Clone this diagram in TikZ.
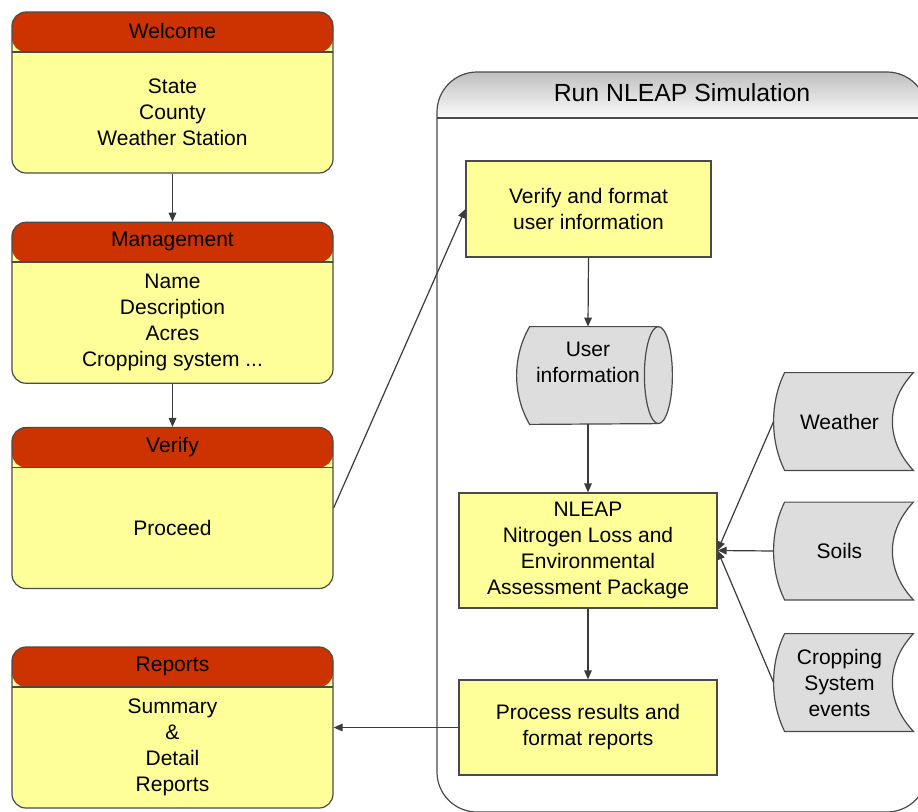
\documentclass[tikz,border=0pt]{standalone}
\usepackage{fontspec}
\setmainfont{Liberation Sans}
\usetikzlibrary{arrows.meta}

\definecolor{headred}{HTML}{CC3300}
\definecolor{boxyellow}{HTML}{FFFF99}
\definecolor{storegray}{HTML}{DDDDDD}
\definecolor{linecol}{HTML}{4A4A4A}

\tikzset{
  screen/.style={draw=linecol, fill=boxyellow, line width=0.6pt, rounded corners=7pt,
    minimum width=160.5pt, minimum height=80.5pt, inner sep=0pt,
    path picture={
      \fill[headred] (path picture bounding box.north west) rectangle ([yshift=-20pt]path picture bounding box.north east);
      \draw[linecol, line width=0.8pt] ([yshift=-20pt]path picture bounding box.north west) -- ([yshift=-20pt]path picture bounding box.north east);
    }},
  headtext/.style={inner sep=0pt},
  bodytext/.style={align=center, inner sep=0pt},
  procbox/.style={draw=linecol, fill=boxyellow, line width=0.6pt, align=center, inner sep=0pt},
  storebox/.style={align=center, inner sep=0pt, minimum width=69.5pt, minimum height=48.5pt},
  storeline/.style={draw=linecol, fill=storegray, line width=0.6pt},
  flow/.style={draw=linecol!80!black, line width=0.6pt, -{Triangle[length=4.5pt,width=3.8pt]}}
}

\begin{document}
\begin{tikzpicture}[x=0.5pt, y=-0.5pt, font=\fontsize{10.5}{13}\selectfont]
  \clip (0,0) rectangle (918,811);

  % simulation frame
  \begin{scope}
    \clip[rounded corners=20pt] (437,812) rectangle (927,72);
    \shade[top color=gray!50, bottom color=gray!3] (437,72) rectangle (927,118);
  \end{scope}
  \draw[linecol, line width=0.6pt, rounded corners=20pt] (437,812) rectangle (927,72);
  \draw[linecol, line width=0.8pt] (437,118) -- (927,118);
  \node[headtext, font=\fontsize{12.4}{14}\selectfont] (sim-title) at (682,93) {Run NLEAP Simulation};

  % left column of screens
  \node[screen] (welcome) at (172.5,92.5) {};
  \node[headtext] (welcome-h) at ([yshift=-10pt]welcome.north) {Welcome};
  \node[bodytext] (welcome-b) at ([yshift=-10pt]welcome.center) {State\\County\\Weather Station};

  \node[screen] (manage) at (172.5,302.75) {};
  \node[headtext] (manage-h) at ([yshift=-10pt]manage.north) {Management};
  \node[bodytext] (manage-b) at ([yshift=-10pt]manage.center) {Name\\Description\\Acres\\Cropping system ...};

  \node[screen] (verify) at (172.5,508) {};
  \node[headtext] (verify-h) at ([yshift=-10pt]verify.north) {Verify};
  \node[bodytext] (verify-b) at ([yshift=-10pt]verify.center) {Proceed};

  \node[screen] (reports) at (172.5,727.5) {};
  \node[headtext] (reports-h) at ([yshift=-10pt]reports.north) {Reports};
  \node[bodytext] (reports-b) at ([yshift=-10pt]reports.center) {Summary\\\&\\Detail\\Reports};

  % simulation steps
  \node[procbox, minimum width=122.5pt, minimum height=48pt] (verifyfmt) at (588.5,209) {Verify and format\\user information};
  \node[storebox, minimum width=71pt] (userinfo) at (588,375.5) {};
  \node[procbox, minimum width=129pt, minimum height=57.5pt] (nleap) at (588,550.5) {NLEAP\\Nitrogen Loss and\\Environmental\\Assessment Package};
  \node[procbox, minimum width=129pt, minimum height=47.5pt] (process) at (588,727.5) {Process results and\\format reports};

  % cylinder outline
  \path[storeline] ([xshift=6.5pt]userinfo.north west) -- ([xshift=-0.5pt]userinfo.north east)
    arc[start angle=90, end angle=-90, x radius=7pt, y radius=24.25pt]
    -- ([xshift=6.5pt]userinfo.south west)
    .. controls +(-17.3,-30) and +(-17.3,30) .. ([xshift=6.5pt]userinfo.north west) -- cycle;
  \draw[linecol, line width=0.6pt] ([xshift=-0.5pt]userinfo.north east)
    arc[start angle=90, end angle=270, x radius=7pt, y radius=24.25pt];
  \node[bodytext] (userinfo-t) at ([yshift=6.5pt]userinfo.center) {User\\information};

  % data stores
  \node[storebox] (weather) at (843.5,421.5) {};
  \node[storebox] (soils) at (843.5,551) {};
  \node[storebox] (crop) at (843.5,682.5) {};
  \foreach \s in {weather,soils,crop}
    \path[storeline] ([xshift=5.5pt]\s.north west) -- (\s.north east)
      .. controls +(-28,30) and +(-28,-30) .. (\s.south east)
      -- ([xshift=5.5pt]\s.south west)
      .. controls +(-14.7,-30) and +(-14.7,30) .. ([xshift=5.5pt]\s.north west) -- cycle;
  \node[bodytext] (weather-t) at ([xshift=-2pt]weather.center) {Weather};
  \node[bodytext] (soils-t) at ([xshift=-2pt]soils.center) {Soils};
  \node[bodytext] (crop-t) at ([xshift=-2pt]crop.center) {Cropping\\System\\events};

  % connectors
  \draw[flow] (welcome.south) -- (manage.north);
  \draw[flow] (manage.south) -- (verify.north);
  \draw[flow] (verify.east) -- (verifyfmt.west);
  \draw[flow] (verifyfmt.south) -- (userinfo.north);
  \draw[flow] (userinfo.south) -- (nleap.north);
  \draw[flow] (nleap.south) -- (process.north);
  \draw[flow] (process.west) -- (reports.east);
  \draw[flow] (weather.west) -- (nleap.east);
  \draw[flow] (soils.west) -- (nleap.east);
  \draw[flow] (crop.west) -- (nleap.east);
\end{tikzpicture}
\end{document}
